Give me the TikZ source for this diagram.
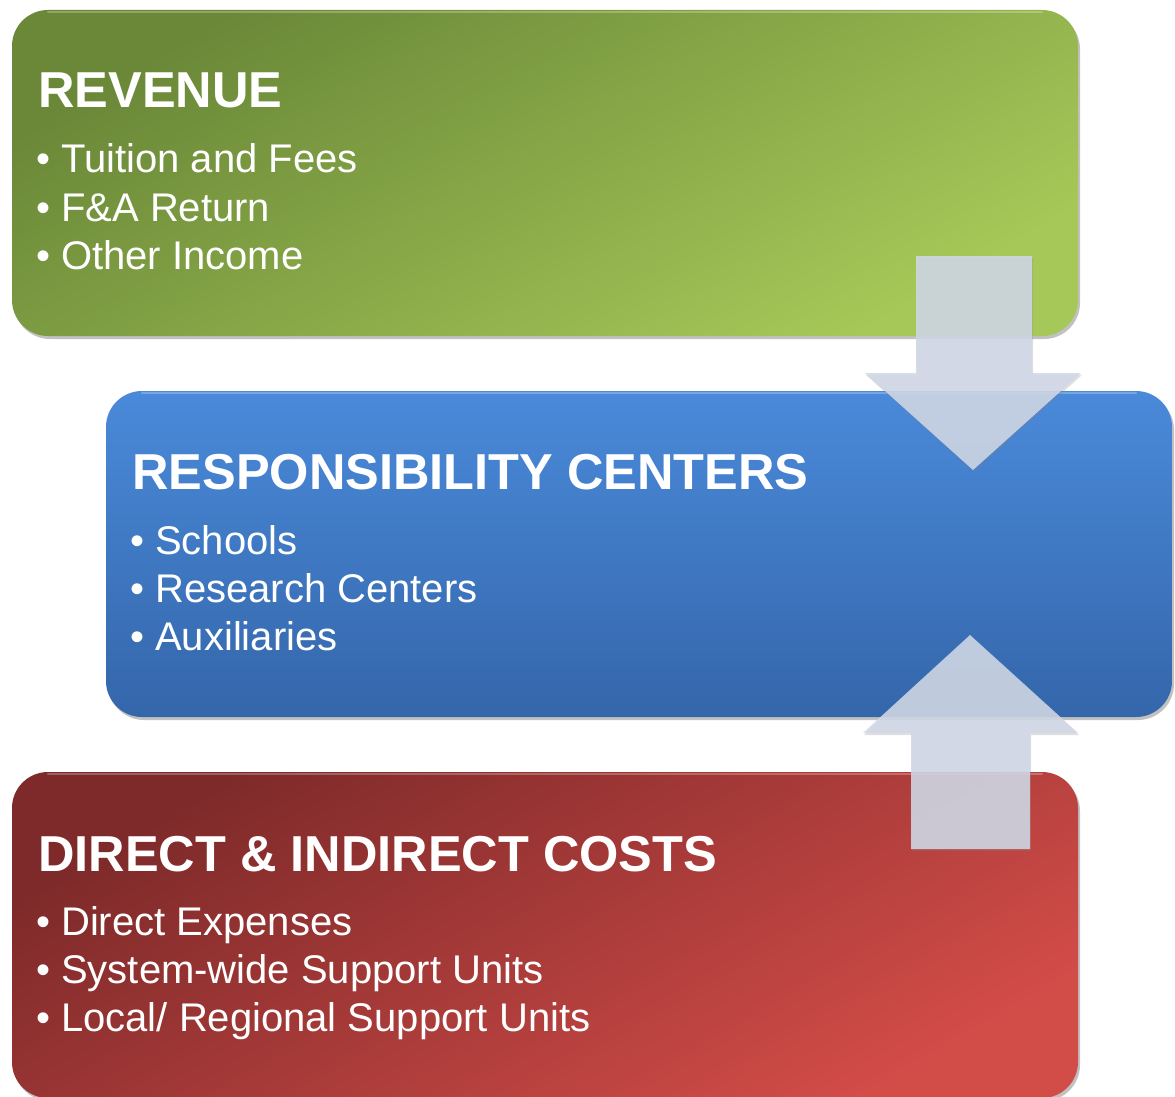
\documentclass[tikz,border=0pt]{standalone}
\usepackage{fontspec}
\setmainfont{Liberation Sans}
\usetikzlibrary{shadows}
\definecolor{gA}{HTML}{6A8838}
\definecolor{gB}{HTML}{A6C858}
\definecolor{bA}{HTML}{4A8ADA}
\definecolor{bB}{HTML}{3466AA}
\definecolor{rA}{HTML}{7E2A2A}
\definecolor{rB}{HTML}{D24C48}
\definecolor{arr}{HTML}{D0D8E6}
\tikzset{
  panel/.style={rounded corners=36pt, minimum width=1066pt, minimum height=326pt,
    inner sep=0pt, drop shadow={shadow xshift=2pt, shadow yshift=-3pt, opacity=0.35, fill=black!70}},
  ttl/.style={anchor=base west, text=white, font=\bfseries\fontsize{50.5}{50}\selectfont, inner sep=0pt},
  itm/.style={anchor=base west, text=white, font=\fontsize{40}{48}\selectfont, inner sep=0pt, align=left},
  bigarrow/.style={fill=arr, fill opacity=0.88, draw=none,
    drop shadow={shadow xshift=1pt, shadow yshift=-2pt, opacity=0.25}}
}
\begin{document}
\begin{tikzpicture}[x=1pt,y=-1pt]
\useasboundingbox (0,0) rectangle (1175,1097);
% panels
\node[panel, top color=gA, bottom color=gB, shading angle=30] (rev) at (545,173) {};
\node[panel, top color=bA, bottom color=bB] (rc) at (639,554) {};
\node[panel, top color=rA, bottom color=rB, shading angle=30] (cost) at (545,935) {};
% top highlights
\draw[white, opacity=0.25, line width=2pt, line cap=round] ([xshift=36pt,yshift=-2pt]rev.north west) -- ([xshift=-36pt,yshift=-2pt]rev.north east);
\draw[white, opacity=0.25, line width=2pt, line cap=round] ([xshift=36pt,yshift=-2pt]rc.north west) -- ([xshift=-36pt,yshift=-2pt]rc.north east);
\draw[white, opacity=0.25, line width=2pt, line cap=round] ([xshift=36pt,yshift=-2pt]cost.north west) -- ([xshift=-36pt,yshift=-2pt]cost.north east);
% texts
\node[ttl] (t1) at (38,108) {REVENUE};
\node[itm] (i1) at (36,172) {•\hspace{11pt}Tuition and Fees};
\node[itm] (i2) at (36,221) {•\hspace{11pt}F\&A Return};
\node[itm] (i3) at (36,269) {•\hspace{11pt}Other Income};
\node[ttl] (t2) at (132,489) {RESPONSIBILITY CENTERS};
\node[itm] (j1) at (130,554) {•\hspace{11pt}Schools};
\node[itm] (j2) at (130,602) {•\hspace{11pt}Research Centers};
\node[itm] (j3) at (130,650) {•\hspace{11pt}Auxiliaries};
\node[ttl] (t3) at (38,871) {DIRECT \& INDIRECT COSTS};
\node[itm] (k1) at (36,935) {•\hspace{11pt}Direct Expenses};
\node[itm] (k2) at (36,983) {•\hspace{11pt}System-wide Support Units};
\node[itm] (k3) at (36,1031) {•\hspace{11pt}Local/ Regional Support Units};
% arrows
\path[bigarrow] (916,256) -- (1032,256) -- (1032,373) -- (1081,373) -- (973,470) -- (865,373) -- (916,373) -- cycle;
\path[bigarrow] (911,849) -- (1030,849) -- (1030,733) -- (1078,733) -- (970,635) -- (863,733) -- (911,733) -- cycle;
\end{tikzpicture}
\end{document}
